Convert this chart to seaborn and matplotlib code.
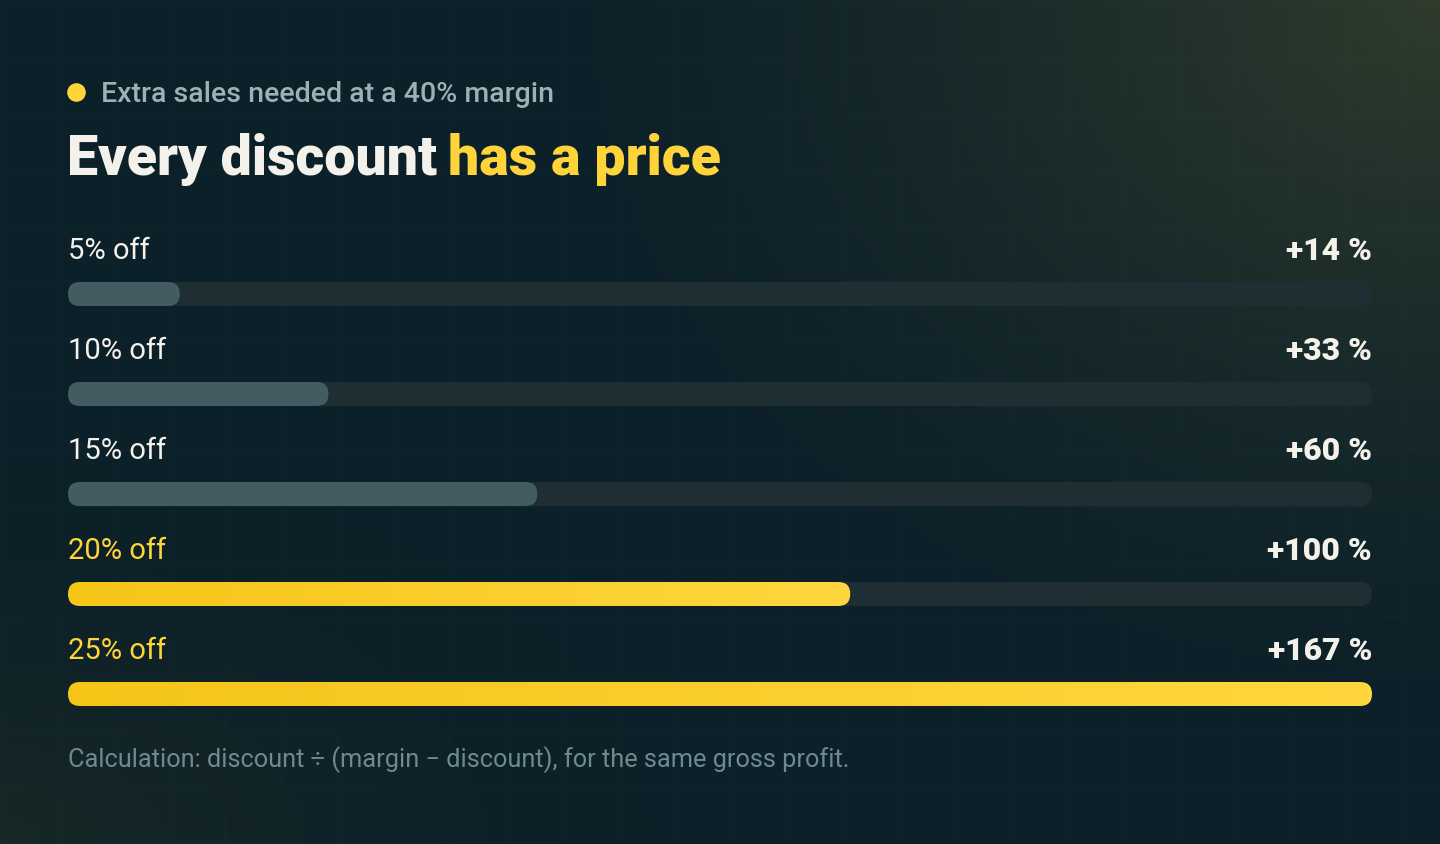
import numpy as np
import pandas as pd
import seaborn as sns
import matplotlib.pyplot as plt
from matplotlib.patches import FancyBboxPatch
from matplotlib.colors import LinearSegmentedColormap

# data
discounts = ['5% off', '10% off', '15% off', '20% off', '25% off']
extra_sales = [14.3, 33.3, 60.0, 100.0, 166.7]
value_labels = ['+14 %', '+33 %', '+60 %', '+100 %', '+167 %']
highlight = [False, False, False, True, True]

# colours
BG = np.array([12, 32, 41]) / 255
GLOW_TR = np.array([47, 60, 44]) / 255
GLOW_BL = np.array([27, 43, 37]) / 255
WHITE = '#F3F1EA'
YELLOW = '#FFD43B'
GREY_BAR = '#3D5F66'
TRACK = '#1C3036'
SUB = '#9DB0B4'
NOTE = '#6F898F'

W, H = 1440, 844
sns.set_theme(style='white')
plt.rcParams['font.family'] = ['Roboto', 'DejaVu Sans']

fig = plt.figure(figsize=(W / 100, H / 100), dpi=100)

# background: dark base, soft glows, faint 56px grid
bg = fig.add_axes([0, 0, 1, 1])
yy, xx = np.mgrid[0:H, 0:W]
w1 = np.clip(1 - np.hypot((xx - W) / 950, yy / 750), 0, 1) ** 1.5
w2 = np.clip(1 - np.hypot(xx / 650, (yy - H) / 380), 0, 1) ** 1.5 * 0.7
img = BG + (GLOW_TR - BG) * w1[..., None] + (GLOW_BL - BG) * w2[..., None]
grid = ((xx - 1) % 56 == 0) | ((yy - 2) % 56 == 0)
img = img + grid[..., None] * 0.014
bg.imshow(np.clip(img, 0, 1), extent=[0, W, H, 0], aspect='auto', interpolation='nearest')
bg.set_xlim(0, W)
bg.set_ylim(H, 0)
bg.axis('off')

# bar area
left, right, top, bottom = 68, 1372, 244, 744
ax = fig.add_axes([left / W, 1 - bottom / H, (right - left) / W, (bottom - top) / H])
ax.set_facecolor('none')

vmax = max(extra_sales)
df = pd.DataFrame({'discount': discounts, 'extra': extra_sales, 'track': [vmax] * len(discounts)})
sns.barplot(data=df, x='track', y='discount', color=TRACK, width=0.24, ax=ax)
sns.barplot(data=df, x='extra', y='discount', color=GREY_BAR, width=0.24, ax=ax)

# swap the square bars for pill shapes
xpp = vmax / (right - left)
ypp = 1 / 100
yellow_cmap = LinearSegmentedColormap.from_list('y', ['#F5C518', '#FFD63D'])
grad = np.linspace(0, 1, 256).reshape(1, -1)
old = list(ax.patches)
for k, p in enumerate(old):
    x0, y0, w, h = p.get_x(), p.get_y(), p.get_width(), p.get_height()
    fc = p.get_facecolor()
    p.remove()
    is_value = k >= len(discounts)
    i = k % len(discounts)
    pill = FancyBboxPatch((x0, y0), w, h, boxstyle=f'round,pad=0,rounding_size={12 * xpp}',
                          mutation_aspect=ypp / xpp, fc=fc, ec='none')
    ax.add_patch(pill)
    if is_value and highlight[i]:
        pill.set_facecolor('none')
        im = ax.imshow(grad, cmap=yellow_cmap, extent=[x0, x0 + w, y0 + h, y0],
                       aspect='auto', interpolation='bilinear', zorder=3)
        im.set_clip_path(pill)

ax.set_xlim(0, vmax)
ax.set_ylim(len(discounts) - 0.5, -0.5)
ax.axis('off')

# row labels and values
for i, (lab, val) in enumerate(zip(discounts, value_labels)):
    ax.text(0, i - 0.43, lab, ha='left', va='center', fontsize=21,
            color=YELLOW if highlight[i] else WHITE)
    ax.text(vmax, i - 0.43, val, ha='right', va='center', fontsize=23,
            fontweight='heavy', color=WHITE)

# header
bg.scatter([76], [92], s=180, color=YELLOW, lw=0)
bg.text(101, 94, 'Extra sales needed at a 40% margin', ha='left', va='center',
        fontsize=20.5, fontweight='medium', color=SUB)

t1 = bg.text(67, 175, 'Every discount', ha='left', va='baseline', fontsize=40,
             fontweight='heavy', color=WHITE)
fig.canvas.draw()
ext = t1.get_window_extent()
bg.text(ext.x1 + 11, 175, 'has a price', ha='left', va='baseline', fontsize=40,
        fontweight='heavy', color=YELLOW)

bg.text(68, 760, 'Calculation: discount \u00f7 (margin \u2212 discount), for the same gross profit.',
        ha='left', va='center', fontsize=18.3, color=NOTE)

plt.savefig('out.png', dpi=100, facecolor=fig.get_facecolor())
